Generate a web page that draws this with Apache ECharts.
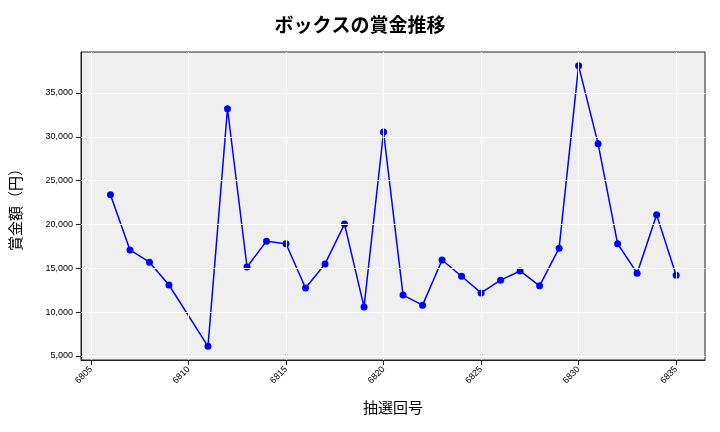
<!DOCTYPE html>
<html><head><meta charset="utf-8">
<script src="https://cdn.jsdelivr.net/npm/echarts@6/dist/echarts.min.js"></script>
<style>html,body{margin:0;padding:0;background:#fff}#c{width:720px;height:432px}</style>
</head><body><div id="c"></div>
<script>
const draws = [6806,6807,6808,6809,6811,6812,6813,6814,6815,6816,6817,6818,6819,6820,6821,6822,6823,6824,6825,6826,6827,6828,6829,6830,6831,6832,6833,6834,6835];
const prizes = [23400,17100,15700,13100,6100,33200,15150,18100,17800,12750,15500,20050,10600,30550,11950,10800,15950,14100,12200,13650,14700,13000,17300,38100,29200,17800,14450,21100,14200];
const xTicks = [6805,6810,6815,6820,6825,6830,6835];
const yTicks = [5000,10000,15000,20000,25000,30000,35000];
const font = "'Noto Sans CJK JP', sans-serif";
const chart = echarts.init(document.getElementById('c'));
chart.setOption({
  animation:false,
  title:{text:'ボックスの賞金推移',left:'center',top:10,textStyle:{fontFamily:font,fontSize:19,fontWeight:'bold',color:'#000'}},
  grid:{left:80,right:15,top:52,bottom:72,show:true,backgroundColor:'#efefef',borderColor:'#222',borderWidth:1},
  xAxis:{type:'value',min:6804.49,max:6836.48,
    name:'抽選回号',nameLocation:'middle',nameGap:40,nameTextStyle:{fontFamily:font,fontSize:15,color:'#000'},
    axisLine:{lineStyle:{color:'#222'}},axisTick:{show:true,customValues:xTicks,lineStyle:{color:'#222'}},
    axisLabel:{rotate:45,fontSize:9,color:'#000',customValues:xTicks,formatter:v=>String(Math.round(v))},
    splitLine:{show:false}},
  yAxis:{type:'value',min:4544,max:39677,
    name:'賞金額（円）',nameLocation:'middle',nameGap:58,nameTextStyle:{fontFamily:font,fontSize:15,color:'#000'},
    axisLine:{show:true,lineStyle:{color:'#222'}},axisTick:{show:true,customValues:yTicks,lineStyle:{color:'#222'}},
    axisLabel:{fontSize:9,color:'#000',customValues:yTicks,formatter:v=>Math.round(v).toLocaleString('en-US')},
    splitLine:{show:false}},
  series:[
    {type:'line',data:xTicks.map(x=>[x,4544]),symbol:'none',silent:true,lineStyle:{width:0},
     markLine:{silent:true,symbol:'none',label:{show:false},lineStyle:{color:'#fff',width:1,type:'solid'},
       data:xTicks.map(x=>({xAxis:x})).concat(yTicks.map(y=>({yAxis:y})))}},
    {type:'line',data:draws.map((d,i)=>[d,prizes[i]]),color:'#0000ff',
    lineStyle:{width:1.5,color:'#0000ff'},symbol:'circle',symbolSize:7,itemStyle:{color:'#0000ff'}}]
});
</script></body></html>
